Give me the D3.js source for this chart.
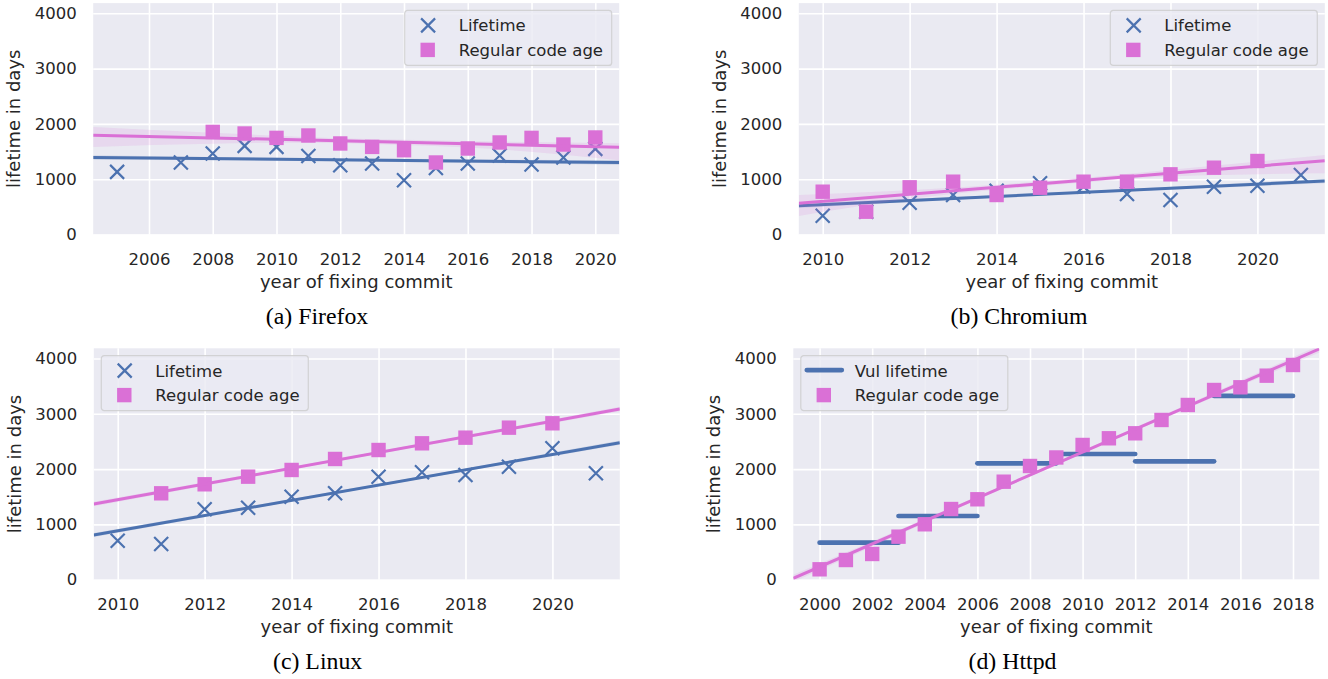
<!DOCTYPE html>
<html><head><meta charset="utf-8">
<script src="https://cdn.jsdelivr.net/npm/d3@7"></script>
<style>body{margin:0;background:#fff}svg{display:block}</style>
</head><body>
<svg id="chart" width="1328" height="679"></svg>
<script>
// ---------------- data ----------------
const yTicks = [0, 1000, 2000, 3000, 4000];
const yDomain = [0, 4184];

// (a) Firefox
const ffXTicks = [2006, 2008, 2010, 2012, 2014, 2016, 2018, 2020];
const ffLifeYears = [2005, 2007, 2008, 2009, 2010, 2011, 2012, 2013, 2014, 2015, 2016, 2017, 2018, 2019, 2020];
const ffLife = [1132, 1302, 1465, 1602, 1584, 1421, 1253, 1284, 982, 1204, 1284, 1429, 1266, 1392, 1548];
const ffAgeYears = [2008, 2009, 2010, 2011, 2012, 2013, 2014, 2015, 2016, 2017, 2018, 2019, 2020];
const ffAge = [1855, 1826, 1747, 1790, 1646, 1584, 1524, 1302, 1555, 1664, 1747, 1627, 1754];
const ffLifeFit = [[2004.25, 1392], [2020.75, 1302]];
const ffAgeFit = [[2004.25, 1796], [2020.75, 1579]];
const ffLifeBand = [[2004.25, 1350, 1435], [2012.5, 1322, 1372], [2020.75, 1255, 1345]];
const ffAgeBand = [[2004.25, 1584, 1946], [2008, 1640, 1840], [2011, 1660, 1760], [2014, 1620, 1715], [2017, 1540, 1680], [2020.75, 1344, 1649]];

// (b) Chromium
const crXTicks = [2010, 2012, 2014, 2016, 2018, 2020];
const crLifeYears = [2010, 2011, 2012, 2013, 2014, 2015, 2016, 2017, 2018, 2019, 2020, 2021];
const crLife = [340, 412, 575, 714, 792, 926, 870, 732, 624, 865, 883, 1076];
const crAgeYears = [2010, 2011, 2012, 2013, 2014, 2015, 2016, 2017, 2018, 2019, 2020];
const crAge = [774, 412, 853, 955, 714, 846, 955, 955, 1088, 1208, 1329];
const crLifeFit = [[2009.45, 521], [2021.55, 967]];
const crAgeFit = [[2009.45, 564], [2021.55, 1335]];
const crLifeBand = [[2009.45, 480, 565], [2015.5, 725, 765], [2021.55, 925, 1010]];
const crAgeBand = [[2009.45, 335, 714], [2012, 640, 800], [2015.5, 910, 990], [2018, 1050, 1170], [2021.55, 1106, 1437]];

// (c) Linux
const lxXTicks = [2010, 2012, 2014, 2016, 2018, 2020];
const lxLifeYears = [2010, 2011, 2012, 2013, 2014, 2015, 2016, 2017, 2018, 2019, 2020, 2021];
const lxLife = [705, 646, 1273, 1302, 1501, 1562, 1863, 1942, 1893, 2043, 2376, 1924];
const lxAgeYears = [2011, 2012, 2013, 2014, 2015, 2016, 2017, 2018, 2019, 2020];
const lxAge = [1562, 1725, 1863, 1984, 2183, 2345, 2466, 2568, 2749, 2828];
const lxLifeFit = [[2009.45, 808], [2021.55, 2477]];
const lxAgeFit = [[2009.45, 1369], [2021.55, 3087]];
const lxLifeBand = [[2009.45, 770, 846], [2015.5, 1620, 1665], [2021.55, 2440, 2515]];
const lxAgeBand = [[2009.45, 1330, 1408], [2015.5, 2205, 2250], [2021.55, 3048, 3126]];

// (d) Httpd
const htXTicks = [2000, 2002, 2004, 2006, 2008, 2010, 2012, 2014, 2016, 2018];
const htAgeYears = [2000, 2001, 2002, 2003, 2004, 2005, 2006, 2007, 2008, 2009, 2010, 2011, 2012, 2013, 2014, 2015, 2016, 2017, 2018];
const htAge = [188, 356, 465, 778, 1002, 1278, 1454, 1772, 2056, 2210, 2436, 2557, 2647, 2888, 3159, 3430, 3479, 3689, 3882];
const htVulStart = [2000, 2003, 2006, 2009, 2012, 2015];
const htVulEnd = [2003, 2006, 2009, 2012, 2015, 2018];
const htVul = [669, 1152, 2105, 2273, 2141, 3322];
const htAgeFit = [[1999, 25], [2019, 4172]];
const htAgeBand = [[1999, -40, 90], [2009, 2075, 2122], [2019, 4107, 4237]];

// ---------------- drawing ----------------
const BG = '#eaeaf2', BLUE = '#4c72b0', PINK = '#da70d6', TXT = '#262626';
const PW = 526, PH = 231.4;
const FONT = 'DejaVu Sans', TFS = 16.5, LFS = 18;
const svg = d3.select('#chart');

const panels = [
  {key: 'a', caption: '(a) Firefox', left: 93.2, top: 3.1, xDomain: [2004.25, 2020.75], xTicks: ffXTicks,
   life: {years: ffLifeYears, vals: ffLife, fit: ffLifeFit, band: ffLifeBand},
   age: {years: ffAgeYears, vals: ffAge, fit: ffAgeFit, band: ffAgeBand},
   legendSide: 'right', capX: 317, capY: 324},
  {key: 'b', caption: '(b) Chromium', left: 798.8, top: 3.1, xDomain: [2009.45, 2021.55], xTicks: crXTicks,
   life: {years: crLifeYears, vals: crLife, fit: crLifeFit, band: crLifeBand},
   age: {years: crAgeYears, vals: crAge, fit: crAgeFit, band: crAgeBand},
   legendSide: 'right', capX: 1019, capY: 324},
  {key: 'c', caption: '(c) Linux', left: 93.8, top: 348.3, xDomain: [2009.45, 2021.55], xTicks: lxXTicks,
   life: {years: lxLifeYears, vals: lxLife, fit: lxLifeFit, band: lxLifeBand},
   age: {years: lxAgeYears, vals: lxAge, fit: lxAgeFit, band: lxAgeBand},
   legendSide: 'left', capX: 317.6, capY: 669},
  {key: 'd', caption: '(d) Httpd', left: 793.3, top: 348.3, xDomain: [1999, 2019], xTicks: htXTicks,
   vul: {start: htVulStart, end: htVulEnd, vals: htVul},
   age: {years: htAgeYears, vals: htAge, fit: htAgeFit, band: htAgeBand},
   legendSide: 'left', capX: 1012.5, capY: 669}
];

const xPath = 'M-7,-7L7,7M-7,7L7,-7';

panels.forEach(p => {
  const x = d3.scaleLinear().domain(p.xDomain).range([p.left, p.left + PW]);
  const y = d3.scaleLinear().domain(yDomain).range([p.top + PH, p.top]);
  const g = svg.append('g');
  const clipId = 'clip-' + p.key;
  svg.append('clipPath').attr('id', clipId).append('rect')
    .attr('x', p.left).attr('y', p.top).attr('width', PW).attr('height', PH);

  g.append('rect').attr('x', p.left).attr('y', p.top).attr('width', PW).attr('height', PH).attr('fill', BG);

  const ax = g.append('g').attr('transform', `translate(0,${p.top + PH})`)
    .call(d3.axisBottom(x).tickValues(p.xTicks).tickFormat(d3.format('d')).tickSize(-PH).tickPadding(18.6));
  const ay = g.append('g').attr('transform', `translate(${p.left},0)`)
    .call(d3.axisLeft(y).tickValues(yTicks).tickFormat(d3.format('d')).tickSize(-PW).tickPadding(16.5));
  [ax, ay].forEach(a => {
    a.select('.domain').remove();
    a.selectAll('line').attr('stroke', '#ffffff').attr('stroke-width', 1.6);
    a.selectAll('text').attr('fill', TXT).style('font-family', FONT).style('font-size', TFS + 'px');
  });

  // axis labels
  g.append('text').attr('x', p.left + PW / 2).attr('y', p.top + PH + 53.5)
    .attr('text-anchor', 'middle').attr('fill', TXT)
    .style('font-family', FONT).style('font-size', LFS + 'px').text('year of fixing commit');
  g.append('text').attr('transform', `translate(${p.left - 73},${p.top + PH / 2}) rotate(-90)`)
    .attr('text-anchor', 'middle').attr('fill', TXT)
    .style('font-family', FONT).style('font-size', LFS + 'px').text('lifetime in days');

  // caption
  svg.append('text').attr('x', p.capX).attr('y', p.capY).attr('text-anchor', 'middle')
    .attr('fill', '#000').style('font-family', 'Liberation Serif').style('font-size', '23.8px').text(p.caption);

  const data = g.append('g').attr('clip-path', `url(#${clipId})`);
  const area = d3.area().x(d => x(d[0])).y0(d => y(d[1])).y1(d => y(d[2])).curve(d3.curveMonotoneX);
  const line = d3.line().x(d => x(d[0])).y(d => y(d[1]));

  if (p.life) {
    data.append('path').datum(p.life.band).attr('d', area).attr('fill', BLUE).attr('fill-opacity', 0.15);
    data.selectAll('.lx').data(p.life.years.map((yr, i) => [yr, p.life.vals[i]])).enter()
      .append('path').attr('d', xPath)
      .attr('transform', d => `translate(${x(d[0])},${y(d[1])})`)
      .attr('fill', 'none').attr('stroke', BLUE).attr('stroke-width', 2.2);
    data.append('path').datum(p.life.fit).attr('d', line)
      .attr('stroke', BLUE).attr('stroke-width', 3).attr('fill', 'none');
  }
  if (p.vul) {
    data.selectAll('.vl').data(p.vul.vals.map((v, i) => [p.vul.start[i], p.vul.end[i], v])).enter()
      .append('line')
      .attr('x1', d => x(d[0])).attr('x2', d => x(d[1]))
      .attr('y1', d => y(d[2])).attr('y2', d => y(d[2]))
      .attr('stroke', BLUE).attr('stroke-width', 4.7).attr('stroke-linecap', 'round');
  }
  // regular code age
  data.append('path').datum(p.age.band).attr('d', area).attr('fill', PINK).attr('fill-opacity', 0.15);
  data.selectAll('.sq').data(p.age.years.map((yr, i) => [yr, p.age.vals[i]])).enter()
    .append('rect')
    .attr('x', d => x(d[0]) - 7.2).attr('y', d => y(d[1]) - 7.2)
    .attr('width', 14.4).attr('height', 14.4).attr('fill', PINK);
  data.append('path').datum(p.age.fit).attr('d', line)
    .attr('stroke', PINK).attr('stroke-width', 3).attr('fill', 'none');

  // legend
  const LW = 207, LH = 55;
  const lx = p.legendSide === 'right' ? p.left + PW - 7.5 - LW : p.left + 7.5;
  const ly = p.top + 7.3;
  const lg = svg.append('g').attr('transform', `translate(${lx},${ly})`);
  lg.append('rect').attr('x', 0).attr('y', 0).attr('width', LW).attr('height', LH).attr('rx', 3)
    .attr('fill', BG).attr('fill-opacity', 0.8).attr('stroke', '#cccccc').attr('stroke-opacity', 0.8).attr('stroke-width', 1.2);
  if (p.vul) {
    lg.append('line').attr('x1', 6).attr('x2', 41).attr('y1', 14.5).attr('y2', 14.5)
      .attr('stroke', BLUE).attr('stroke-width', 4.7).attr('stroke-linecap', 'round');
  } else {
    lg.append('path').attr('d', xPath).attr('transform', 'translate(23.4,15)')
      .attr('fill', 'none').attr('stroke', BLUE).attr('stroke-width', 2.2);
  }
  lg.append('rect').attr('x', 23 - 7.2).attr('y', 39.5 - 7.2).attr('width', 14.4).attr('height', 14.4).attr('fill', PINK);
  const labels = [p.vul ? 'Vul lifetime' : 'Lifetime', 'Regular code age'];
  labels.forEach((t, i) => {
    lg.append('text').attr('x', 54).attr('y', (i === 0 ? 15 : 39.3) + 0.36 * TFS)
      .attr('fill', TXT).style('font-family', FONT).style('font-size', TFS + 'px').text(t);
  });
});
</script>
</body></html>
